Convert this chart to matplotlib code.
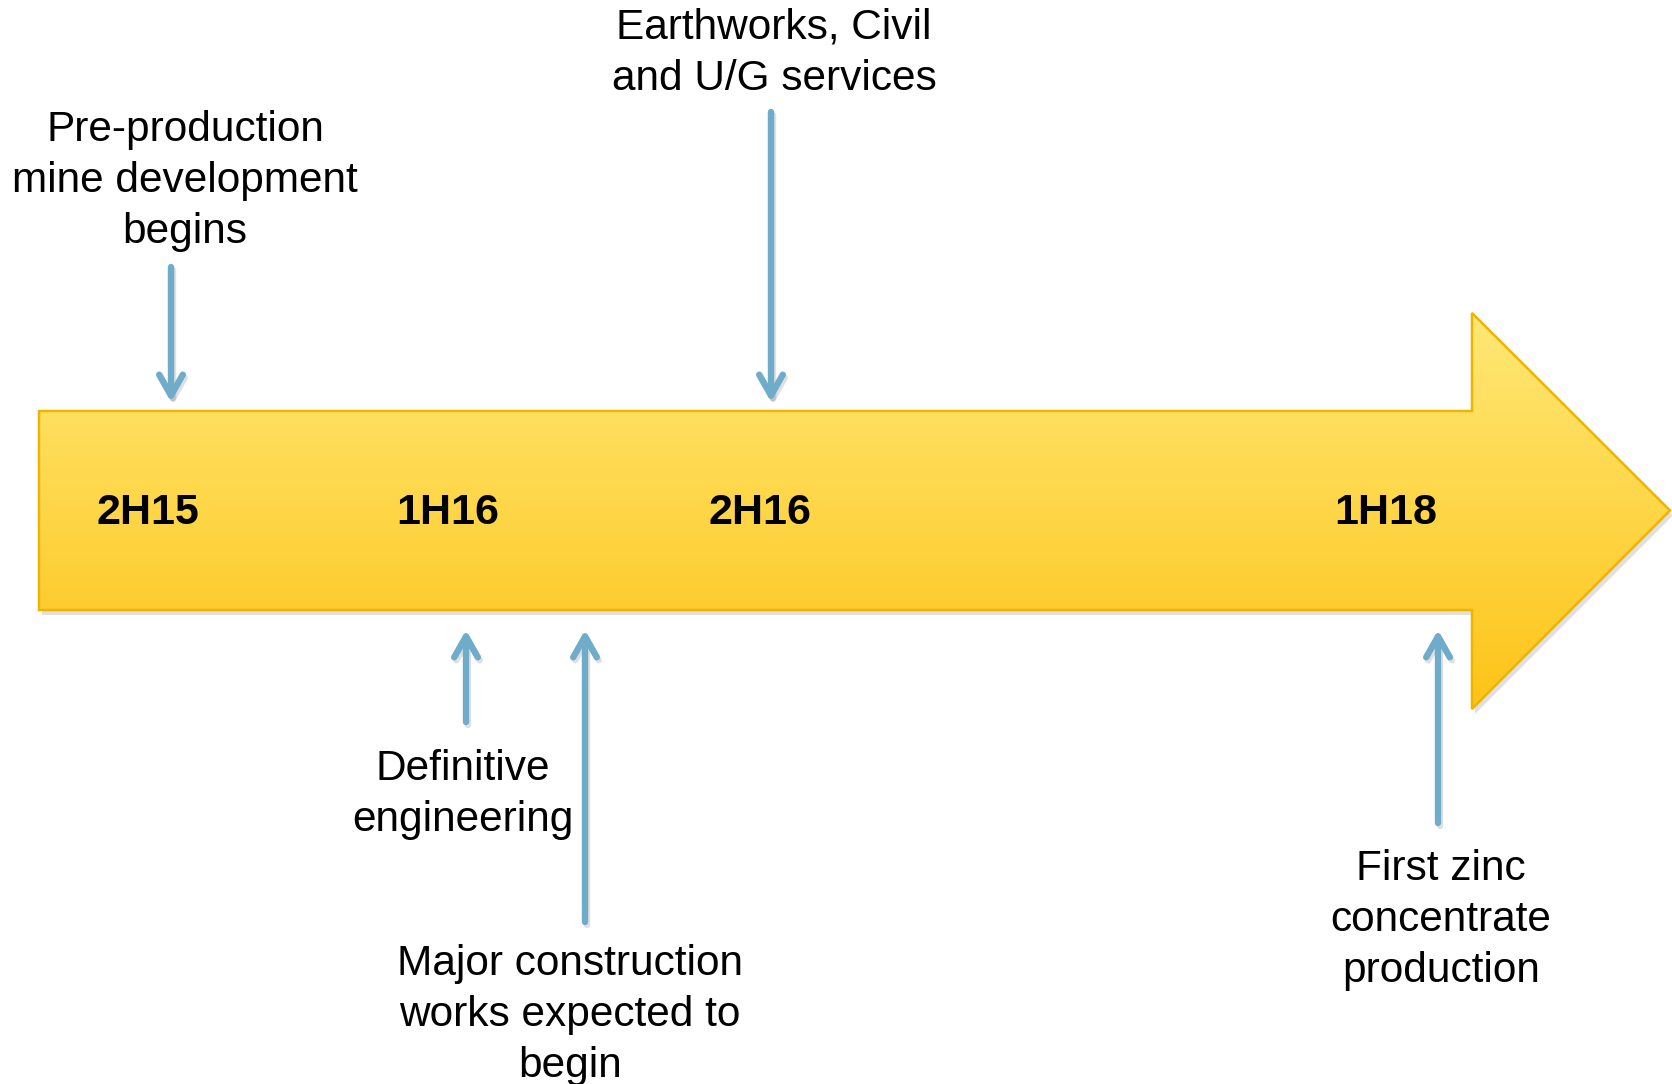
import numpy as np
import matplotlib.pyplot as plt
from matplotlib.patches import Polygon, FancyArrowPatch
from matplotlib.colors import to_rgb

plt.rcParams['font.family'] = ['Liberation Sans', 'DejaVu Sans']

W, H = 1672, 1084

# half-year labels on the big arrow
periods = ["2H15", "1H16", "2H16", "1H18"]
period_x = [148, 448, 760, 1386]

# milestones: label lines, arrow x, arrow tail y, arrow tip y
milestones = [
    ["Pre-production", "mine development", "begins"],
    ["Earthworks, Civil", "and U/G services"],
    ["Definitive", "engineering"],
    ["Major construction", "works expected to", "begin"],
    ["First zinc", "concentrate", "production"],
]
text_x = [185, 774, 463, 570, 1441]
text_base = [141, 39, 780, 975, 880]
arrow_x = [171, 771, 466, 585, 1438]
arrow_tail = [267, 112, 722, 922, 823]
arrow_tip = [402, 402, 630, 630, 630]

fig = plt.figure(figsize=(W / 100, H / 100), dpi=100)
ax = fig.add_axes([0, 0, 1, 1])
ax.set_xlim(0, W)
ax.set_ylim(H, 0)
ax.axis("off")

# big timeline arrow
body_l, body_r, body_t, body_b = 39, 1472, 411, 610
head_t, head_b, tip_x = 313, 709, 1670
tip_y = (body_t + body_b) / 2
verts = [(body_l, body_t), (body_r, body_t), (body_r, head_t), (tip_x, tip_y),
         (body_r, head_b), (body_r, body_b), (body_l, body_b)]

shadow = Polygon([(x + 3, y + 5) for x, y in verts], closed=True,
                 facecolor="#000000", alpha=0.12, edgecolor="none", zorder=1)
ax.add_patch(shadow)

poly = Polygon(verts, closed=True, facecolor="none", edgecolor="#F0B400",
               linewidth=1.8, zorder=3)
ax.add_patch(poly)

top_c = np.array(to_rgb("#FFE877"))
bot_c = np.array(to_rgb("#FDC417"))
t = np.linspace(0, 1, 256)[:, None, None]
grad = top_c * (1 - t) + bot_c * t
im = ax.imshow(grad, extent=(body_l, tip_x, head_b, head_t), origin="upper",
               aspect="auto", zorder=2, interpolation="bilinear")
im.set_clip_path(poly)

for lab, x in zip(periods, period_x):
    ax.text(x, tip_y + 2, lab, ha="center", va="center", fontsize=31,
            fontweight="bold", color="black", zorder=4)

# milestone arrows and labels
blue = "#6EACCA"
for lines, tx, tb, ax_x, y0, y1 in zip(milestones, text_x, text_base,
                                        arrow_x, arrow_tail, arrow_tip):
    for i, line in enumerate(lines):
        ax.text(tx, tb + i * 51, line, ha="center", va="baseline",
                fontsize=30.5, color="black", zorder=4)
    sh = FancyArrowPatch((ax_x + 2, y0 + 3), (ax_x + 2, y1 + 3),
                         arrowstyle="->,head_length=1.5,head_width=0.85",
                         mutation_scale=10, linewidth=4.6, color="#000000",
                         alpha=0.12, shrinkA=0, shrinkB=0, capstyle="round",
                         joinstyle="round", zorder=4)
    ax.add_patch(sh)
    arr = FancyArrowPatch((ax_x, y0), (ax_x, y1),
                          arrowstyle="->,head_length=1.5,head_width=0.85",
                          mutation_scale=10, linewidth=4.6, color=blue,
                          shrinkA=0, shrinkB=0, capstyle="round",
                          joinstyle="round", zorder=5)
    ax.add_patch(arr)

fig.savefig("out.png", dpi=100)
